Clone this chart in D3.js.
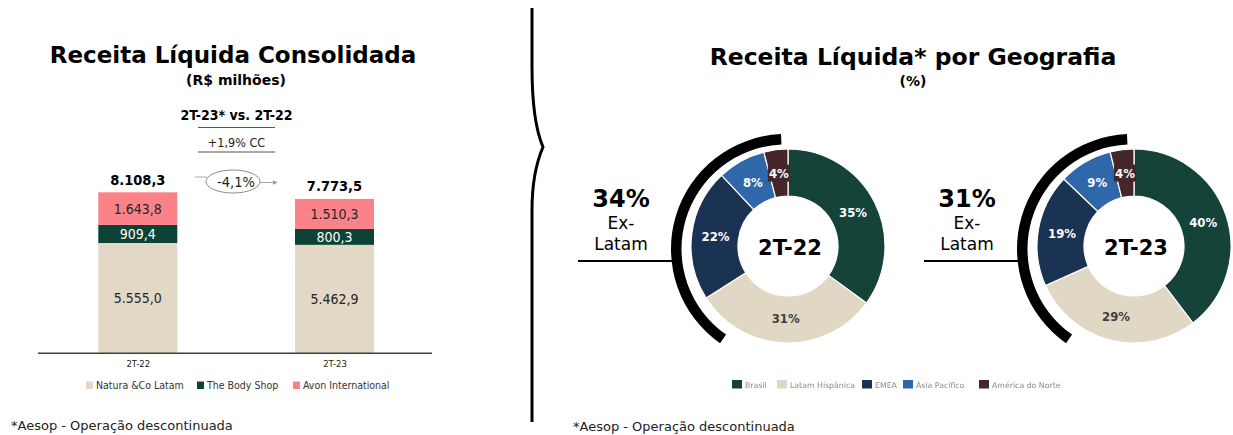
<!DOCTYPE html>
<html>
<head>
<meta charset="utf-8">
<script src="https://cdn.jsdelivr.net/npm/d3@7"></script>
<style>
  html, body { margin: 0; padding: 0; background: #ffffff; }
  svg { display: block; }
  .verd { font-family: "DejaVu Sans", Verdana, sans-serif; }
  .tah { font-family: "DejaVu Sans Condensed", "DejaVu Sans", sans-serif; font-stretch: condensed; }
</style>
</head>
<body>
<svg id="chart" width="1233" height="435"></svg>
<script>
// ---------- DATA ----------
const barCategories = ["2T-22", "2T-23"];
const barSeriesNames = ["Natura &Co Latam", "The Body Shop", "Avon International"];
const naturaLatam = [5555.0, 5462.9];
const bodyShop = [909.4, 800.3];
const avonInternational = [1643.8, 1510.3];
const barTotals = [8108.3, 7773.5];
const comparisonTitle = "2T-23* vs. 2T-22";
const constantCurrency = "+1,9% CC";
const variation = "-4,1%";

const geoCategories = ["Brasil", "Latam Hispânica", "EMEA", "Ásia Pacífico", "América do Norte"];
const geoPeriods = ["2T-22", "2T-23"];
const geo2T22 = [35, 31, 22, 8, 4];
const geo2T23 = [40, 29, 19, 9, 4];
const exLatamShare = [34, 31];
const footnote = "*Aesop - Operação descontinuada";

// ---------- STYLE ----------
const barColors = ["#e2d8c5", "#0d4336", "#fb8289"];
const barTextColors = ["#262626", "#ffffff", "#262626"];
const geoColors = ["#15433a", "#e1d7c5", "#1b3352", "#2e67aa", "#45262a"];
const geoTextColors = ["#ffffff", "#404040", "#ffffff", "#ffffff", "#ffffff"];

const svg = d3.select("#chart");
svg.append("rect").attr("width", 1233).attr("height", 435).attr("fill", "#fff");

const br = d3.formatLocale({decimal: ",", thousands: ".", grouping: [3], currency: ["R$", ""]});
const fmt = br.format(",.1f");

// ---------- LEFT: BAR CHART ----------
svg.append("text").attr("class", "verd").attr("x", 233).attr("y", 63)
  .attr("text-anchor", "middle").attr("font-size", 23).attr("font-weight", "bold")
  .text("Receita Líquida Consolidada");
svg.append("text").attr("class", "verd").attr("x", 236).attr("y", 85)
  .attr("text-anchor", "middle").attr("font-size", 14).attr("font-weight", "bold")
  .text("(R$ milhões)");
svg.append("text").attr("class", "tah").attr("x", 236.5).attr("y", 120)
  .attr("text-anchor", "middle").attr("font-size", 14).attr("font-weight", "bold")
  .text(comparisonTitle);
svg.append("line").attr("x1", 198).attr("x2", 275).attr("y1", 127.5).attr("y2", 127.5)
  .attr("stroke", "#555").attr("stroke-width", 1.2);
svg.append("text").attr("class", "tah").attr("x", 236.5).attr("y", 147)
  .attr("text-anchor", "middle").attr("font-size", 12.5).attr("fill", "#222")
  .text(constantCurrency);
svg.append("line").attr("x1", 198).attr("x2", 275).attr("y1", 152).attr("y2", 152)
  .attr("stroke", "#555").attr("stroke-width", 1.2);

const x = d3.scalePoint().domain(barCategories).range([137.8, 334.5]);
const barW = 79;
const y = d3.scaleLinear().domain([0, d3.max(barTotals)]).range([353.3, 192.3]);

const rows = barCategories.map((c, i) => ({cat: c, n: naturaLatam[i], b: bodyShop[i], a: avonInternational[i], total: barTotals[i]}));
const stack = d3.stack().keys(["n", "b", "a"])(rows);

const gBars = svg.append("g");
stack.forEach((layer, li) => {
  layer.forEach((d, i) => {
    gBars.append("rect")
      .attr("x", x(rows[i].cat) - barW / 2).attr("width", barW)
      .attr("y", y(d[1])).attr("height", y(d[0]) - y(d[1]))
      .attr("fill", barColors[li]);
    gBars.append("text").attr("class", "tah")
      .attr("x", x(rows[i].cat)).attr("y", (y(d[0]) + y(d[1])) / 2 + 5)
      .attr("text-anchor", "middle").attr("font-size", 14)
      .attr("fill", barTextColors[li])
      .text(fmt(d[1] - d[0]));
  });
});
rows.forEach(r => {
  gBars.append("text").attr("class", "tah")
    .attr("x", x(r.cat)).attr("y", y(r.total) - 7.5)
    .attr("text-anchor", "middle").attr("font-size", 14.5).attr("font-weight", "bold")
    .attr("fill", "#000").text(fmt(r.total));
});

// axis
const axis = svg.append("g").attr("transform", "translate(0,353.3)")
  .call(d3.axisBottom(x).tickSize(0).tickPadding(8));
axis.select(".domain").remove();
axis.append("line").attr("x1", 38).attr("x2", 432).attr("stroke", "#404040").attr("stroke-width", 1.5);
axis.selectAll(".tick text").attr("class", "verd").attr("font-size", 8.5).attr("fill", "#222")
  .attr("font-family", "DejaVu Sans");

// variation bubble
svg.append("defs").append("marker").attr("id", "arr").attr("viewBox", "0 0 10 10")
  .attr("refX", 9).attr("refY", 5).attr("markerWidth", 5).attr("markerHeight", 5)
  .attr("orient", "auto").append("path").attr("d", "M0,0L10,5L0,10z").attr("fill", "#999");
svg.append("line").attr("x1", 195).attr("x2", 207).attr("y1", 177).attr("y2", 177)
  .attr("stroke", "#aaa").attr("stroke-width", 1);
svg.append("ellipse").attr("cx", 233).attr("cy", 181.5).attr("rx", 27).attr("ry", 11.5)
  .attr("fill", "#fff").attr("stroke", "#8c8c8c").attr("stroke-width", 1);
svg.append("line").attr("x1", 260).attr("x2", 277).attr("y1", 182.5).attr("y2", 182.5)
  .attr("stroke", "#aaa").attr("stroke-width", 1).attr("marker-end", "url(#arr)");
svg.append("text").attr("class", "tah").attr("x", 236).attr("y", 186.5)
  .attr("text-anchor", "middle").attr("font-size", 14.5).attr("fill", "#222").text(variation);

// legend
const legX = [86, 197, 293];
barSeriesNames.forEach((n, i) => {
  svg.append("rect").attr("x", legX[i]).attr("y", 381.5).attr("width", 7).attr("height", 7.5).attr("fill", barColors[i]);
  svg.append("text").attr("class", "tah").attr("x", legX[i] + 10).attr("y", 389)
    .attr("font-size", 10.5).attr("fill", "#333").text(n);
});

svg.append("text").attr("class", "verd").attr("x", 11).attr("y", 430)
  .attr("font-size", 13).attr("fill", "#222").text(footnote);

// ---------- DIVIDER ----------
svg.append("path")
  .attr("d", "M532,8 L532,67 C532,112 537,133 543,147 C537,161 532,182 532,210 L532,422")
  .attr("fill", "none").attr("stroke", "#000").attr("stroke-width", 3);

// ---------- RIGHT: DONUTS ----------
svg.append("text").attr("class", "verd").attr("x", 913).attr("y", 65)
  .attr("text-anchor", "middle").attr("font-size", 23.5).attr("font-weight", "bold")
  .text("Receita Líquida* por Geografia");
svg.append("text").attr("class", "verd").attr("x", 913).attr("y", 86)
  .attr("text-anchor", "middle").attr("font-size", 14).attr("font-weight", "bold")
  .text("(%)");

const donutCenters = [[788, 246], [1134, 246]];
const donutData = [geo2T22, geo2T23];
const pie = d3.pie().sort(null).value(d => d);
const arc = d3.arc().innerRadius(50).outerRadius(97);
const labelArc = d3.arc().innerRadius(73).outerRadius(73);
const deg = Math.PI / 180;
const bracket = d3.arc().innerRadius(104.5).outerRadius(115).startAngle(-145 * deg).endAngle(-2.5 * deg);

donutData.forEach((vals, k) => {
  const [cx, cy] = donutCenters[k];
  const g = svg.append("g").attr("transform", `translate(${cx},${cy})`);
  const arcs = pie(vals);
  g.selectAll("path.slice").data(arcs).join("path").attr("class", "slice")
    .attr("d", arc).attr("fill", (d, i) => geoColors[i])
    .attr("stroke", "#fff").attr("stroke-width", 1.2);
  arcs.forEach((d, i) => {
    const [lx, ly] = labelArc.centroid(d);
    if (d.data < 5) {
      g.append("rect").attr("x", lx - 11).attr("y", ly - 9).attr("width", 22).attr("height", 17)
        .attr("fill", geoColors[i]);
    }
    g.append("text").attr("class", "tah").attr("x", lx).attr("y", ly + 4.5)
      .attr("text-anchor", "middle").attr("font-size", 13).attr("font-weight", "bold")
      .attr("fill", geoTextColors[i]).text(d.data + "%");
  });
  g.append("text").attr("class", "verd").attr("x", 2).attr("y", 8.5)
    .attr("text-anchor", "middle").attr("font-size", 21).attr("font-weight", "bold")
    .text(geoPeriods[k]);
  // ex-latam bracket
  svg.append("path").attr("transform", `translate(${cx - 2},${cy + 3})`)
    .attr("d", bracket()).attr("fill", "#000");
  svg.append("line").attr("x1", cx - 210).attr("x2", cx - 116).attr("y1", 261).attr("y2", 261)
    .attr("stroke", "#000").attr("stroke-width", 2);
  const tx = cx - 167;
  svg.append("text").attr("class", "verd").attr("x", tx).attr("y", 207)
    .attr("text-anchor", "middle").attr("font-size", 24).attr("font-weight", "bold")
    .text(exLatamShare[k] + "%");
  svg.append("text").attr("class", "verd").attr("x", tx).attr("y", 228.5)
    .attr("text-anchor", "middle").attr("font-size", 17).text("Ex-");
  svg.append("text").attr("class", "verd").attr("x", tx).attr("y", 249.5)
    .attr("text-anchor", "middle").attr("font-size", 17).text("Latam");
});

// geo legend
const geoLegX = [732, 777, 862, 903, 979];
const blur = svg.select("defs").append("filter").attr("id", "soft");
blur.append("feGaussianBlur").attr("stdDeviation", 0.45);
geoCategories.forEach((n, i) => {
  svg.append("rect").attr("x", geoLegX[i]).attr("y", 380).attr("width", 10).attr("height", 8.5)
    .attr("fill", geoColors[i]).attr("filter", "url(#soft)");
  svg.append("text").attr("class", "verd").attr("x", geoLegX[i] + 13).attr("y", 387.5)
    .attr("font-size", 7.8).attr("fill", "#8a8a8a").attr("filter", "url(#soft)").text(n);
});

svg.append("text").attr("class", "verd").attr("x", 573).attr("y", 431)
  .attr("font-size", 13).attr("fill", "#222").text(footnote);
</script>
</body>
</html>
